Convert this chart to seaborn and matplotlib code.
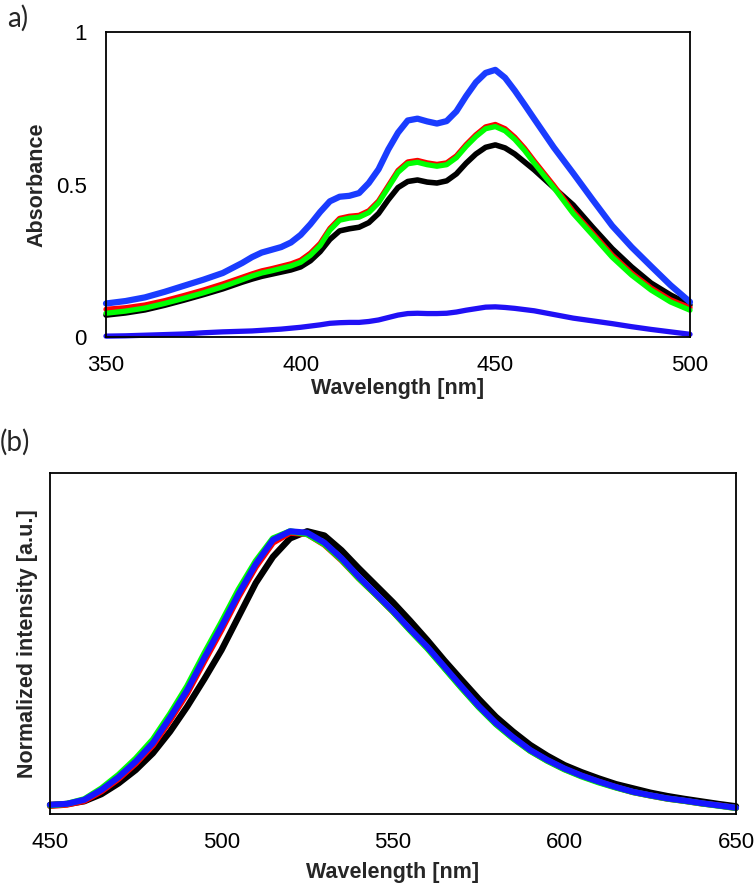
import numpy as np
import pandas as pd
import seaborn as sns
import matplotlib
matplotlib.use("Agg")
import matplotlib.pyplot as plt

# ---- panel a: absorbance spectra ----
wl_abs = [350, 355, 360, 365, 370, 375, 380, 385, 387.5, 390, 392.5, 395, 397.5,
          400, 402.5, 405, 407.5, 410, 412.5, 415, 417.5, 420, 422.5, 425, 427.5,
          430, 432.5, 435, 437.5, 440, 442.5, 445, 447.5, 450, 452.5, 455, 457.5,
          460, 465, 470, 475, 480, 485, 490, 495, 500]

abs_black = [0.072, 0.079, 0.089, 0.104, 0.121, 0.139, 0.158, 0.180, 0.190, 0.199,
             0.206, 0.213, 0.220, 0.230, 0.250, 0.280, 0.320, 0.348, 0.355, 0.360,
             0.375, 0.405, 0.450, 0.490, 0.510, 0.515, 0.508, 0.505, 0.512, 0.535,
             0.570, 0.600, 0.622, 0.630, 0.620, 0.600, 0.574, 0.548, 0.490, 0.433,
             0.360, 0.290, 0.230, 0.177, 0.138, 0.105]
abs_red = [0.091, 0.096, 0.105, 0.119, 0.136, 0.154, 0.174, 0.196, 0.207, 0.217,
           0.224, 0.232, 0.240, 0.252, 0.275, 0.307, 0.356, 0.389, 0.396, 0.399,
           0.414, 0.446, 0.496, 0.546, 0.574, 0.579, 0.571, 0.566, 0.571, 0.594,
           0.631, 0.663, 0.689, 0.697, 0.683, 0.655, 0.619, 0.577, 0.497, 0.412,
           0.341, 0.269, 0.210, 0.161, 0.122, 0.096]
abs_green = [0.078, 0.085, 0.095, 0.110, 0.127, 0.145, 0.165, 0.188, 0.200, 0.210,
             0.217, 0.225, 0.233, 0.245, 0.268, 0.300, 0.350, 0.383, 0.390, 0.393,
             0.408, 0.440, 0.490, 0.540, 0.568, 0.573, 0.565, 0.560, 0.565, 0.588,
             0.625, 0.657, 0.683, 0.690, 0.676, 0.648, 0.612, 0.570, 0.490, 0.405,
             0.334, 0.262, 0.203, 0.154, 0.115, 0.088]
abs_blue = [0.110, 0.118, 0.130, 0.148, 0.168, 0.188, 0.210, 0.243, 0.262, 0.277,
            0.286, 0.295, 0.310, 0.335, 0.370, 0.410, 0.445, 0.460, 0.463, 0.472,
            0.505, 0.550, 0.615, 0.670, 0.710, 0.716, 0.707, 0.700, 0.708, 0.740,
            0.790, 0.835, 0.866, 0.876, 0.850, 0.808, 0.762, 0.715, 0.622, 0.537,
            0.450, 0.365, 0.295, 0.232, 0.170, 0.115]
abs_blue2 = [0.003, 0.004, 0.006, 0.008, 0.010, 0.014, 0.017, 0.019, 0.020, 0.022,
             0.024, 0.026, 0.029, 0.032, 0.036, 0.040, 0.045, 0.047, 0.048, 0.048,
             0.051, 0.056, 0.064, 0.072, 0.077, 0.078, 0.077, 0.077, 0.078, 0.082,
             0.088, 0.093, 0.098, 0.099, 0.097, 0.094, 0.090, 0.086, 0.074, 0.062,
             0.053, 0.044, 0.034, 0.025, 0.017, 0.009]

# ---- panel b: normalized emission ----
wl_em = [450, 455, 460, 465, 470, 475, 480, 485, 490, 495, 500, 505, 510, 515,
         520, 525, 530, 535, 540, 545, 550, 555, 560, 565, 570, 575, 580, 585,
         590, 595, 600, 605, 610, 615, 620, 625, 630, 635, 640, 645, 650]

em_black = [0.032, 0.035, 0.045, 0.070, 0.108, 0.155, 0.214, 0.290, 0.378, 0.475,
            0.577, 0.695, 0.813, 0.905, 0.970, 0.995, 0.980, 0.928, 0.865, 0.805,
            0.745, 0.680, 0.612, 0.540, 0.472, 0.405, 0.342, 0.290, 0.243, 0.205,
            0.172, 0.147, 0.125, 0.105, 0.090, 0.075, 0.063, 0.053, 0.044, 0.035,
            0.027]
em_red = [0.028, 0.033, 0.046, 0.080, 0.124, 0.178, 0.242, 0.330, 0.425, 0.538,
          0.648, 0.765, 0.870, 0.955, 0.990, 0.985, 0.948, 0.893, 0.830, 0.772,
          0.712, 0.648, 0.585, 0.515, 0.445, 0.378, 0.318, 0.268, 0.223, 0.188,
          0.158, 0.134, 0.113, 0.094, 0.077, 0.065, 0.054, 0.046, 0.037, 0.030,
          0.021]
em_green = [0.030, 0.036, 0.052, 0.090, 0.138, 0.195, 0.262, 0.352, 0.450, 0.565,
            0.675, 0.790, 0.890, 0.970, 0.995, 0.985, 0.950, 0.895, 0.830, 0.772,
            0.712, 0.646, 0.583, 0.513, 0.443, 0.376, 0.316, 0.266, 0.222, 0.187,
            0.157, 0.132, 0.111, 0.093, 0.077, 0.065, 0.054, 0.046, 0.037, 0.029,
            0.021]
em_blue = [0.032, 0.036, 0.050, 0.085, 0.130, 0.185, 0.250, 0.340, 0.436, 0.550,
           0.660, 0.775, 0.880, 0.965, 0.995, 0.990, 0.955, 0.900, 0.835, 0.775,
           0.715, 0.650, 0.588, 0.518, 0.448, 0.380, 0.320, 0.270, 0.225, 0.190,
           0.160, 0.135, 0.114, 0.095, 0.078, 0.066, 0.055, 0.047, 0.038, 0.030,
           0.022]

sns.set_theme(style="white")
plt.rcParams['font.family'] = ['Liberation Sans', 'DejaVu Sans']

fig = plt.figure(figsize=(7.55, 8.9), dpi=100)
ax1 = fig.add_axes([0.1404, 0.6213, 0.7735, 0.3427])
ax2 = fig.add_axes([0.0662, 0.0854, 0.9086, 0.3831])

# draw order: black, red, green, then blues on top
abs_series = [
    (abs_black, "black", 4.0),
    (abs_red, "#ff0000", 3.8),
    (abs_green, "#00ff00", 3.8),
    (abs_blue, "#1a3cff", 4.5),
    (abs_blue2, "#2010f5", 3.8),
]
for vals, col, lw in abs_series:
    sns.lineplot(x=wl_abs, y=vals, ax=ax1, color=col, lw=lw, clip_on=False,
                 solid_joinstyle="round")

em_series = [
    (em_black, "black", 4.6),
    (em_red, "#ff0000", 4.4),
    (em_green, "#00ff00", 4.4),
    (em_blue, "#1515ff", 4.4),
]
for vals, col, lw in em_series:
    sns.lineplot(x=wl_em, y=vals, ax=ax2, color=col, lw=lw, clip_on=False,
                 solid_joinstyle="round")

ax1.set_xlim(350, 500)
ax1.set_ylim(0, 1)
ax1.set_xticks([350, 400, 450, 500])
ax1.set_yticks([0, 0.5, 1])
ax1.set_yticklabels(["0", "0.5", "1"])
ax1.set_xlabel("Wavelength [nm]", fontsize=15.5, fontweight="bold")
ax1.set_ylabel("Absorbance", fontsize=15.5, fontweight="bold")
ax1.xaxis.set_label_coords(0.5, -0.135)
ax1.yaxis.set_label_coords(-0.1, 0.5)

ax2.set_xlim(450, 650)
ax2.set_ylim(0, 1.2)
ax2.set_xticks([450, 500, 550, 600, 650])
ax2.set_yticks([])
ax2.set_xlabel("Wavelength [nm]", fontsize=15.5, fontweight="bold")
ax2.set_ylabel("Normalized intensity [a.u.]", fontsize=15.5, fontweight="bold")
ax2.xaxis.set_label_coords(0.5, -0.14)
ax2.yaxis.set_label_coords(-0.018, 0.5)

for ax in (ax1, ax2):
    ax.tick_params(axis="both", length=0, labelsize=16, colors="black")
    ax.tick_params(axis="x", pad=13)
    ax.tick_params(axis="y", pad=14)
    for s in ax.spines.values():
        s.set_color("black")
        s.set_linewidth(1.3)
        s.set_visible(True)

fig.text(0.010, 0.979, "a)", fontsize=20, family=["Lato", "DejaVu Sans"], va="center")
fig.text(0.000, 0.503, "(b)", fontsize=20, family=["Lato", "DejaVu Sans"], va="center")

fig.savefig("out.png", dpi=100)
